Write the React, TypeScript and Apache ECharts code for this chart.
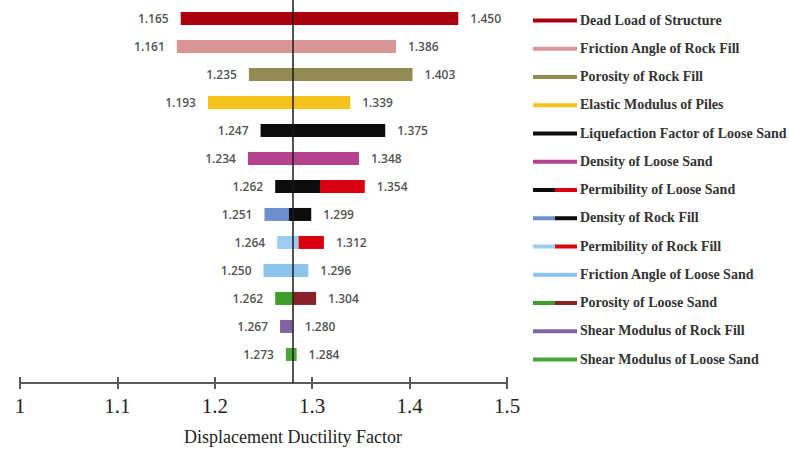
import React, { useEffect, useRef } from "react";
import * as echarts from "echarts";

const categories = [
  "Dead Load of Structure",
  "Friction Angle of Rock Fill",
  "Porosity of Rock Fill",
  "Elastic Modulus of Piles",
  "Liquefaction Factor of Loose Sand",
  "Density of Loose Sand",
  "Permibility of Loose Sand",
  "Density of Rock Fill",
  "Permibility of Rock Fill",
  "Friction Angle of Loose Sand",
  "Porosity of Loose Sand",
  "Shear Modulus of Rock Fill",
  "Shear Modulus of Loose Sand",
];
const lowValues = [1.165, 1.161, 1.235, 1.193, 1.247, 1.234, 1.262, 1.251, 1.264, 1.25, 1.262, 1.267, 1.273];
const highValues = [1.45, 1.386, 1.403, 1.339, 1.375, 1.348, 1.354, 1.299, 1.312, 1.296, 1.304, 1.28, 1.284];
// where a two-colour bar changes colour (single-colour bars: equals high value)
const splitValues = [1.45, 1.386, 1.403, 1.339, 1.375, 1.348, 1.308, 1.276, 1.286, 1.296, 1.28, 1.28, 1.284];
const baseline = 1.276;
const xTicks = { min: 1, max: 1.5, interval: 0.1 };

const leftColors = ["#a8000e", "#d99694", "#948a54", "#f6c21c", "#0d0d0d", "#b4428f", "#0d0d0d", "#6f8fd0", "#9dcbf2", "#8cc4ee", "#3f9e2b", "#8064a2", "#4aa53a"];
const rightColors = ["#a8000e", "#d99694", "#948a54", "#f6c21c", "#0d0d0d", "#b4428f", "#d9000f", "#0d0d0d", "#d9000f", "#8cc4ee", "#8a2128", "#8064a2", "#4aa53a"];

export default function App() {
  const ref = useRef<HTMLDivElement>(null);
  useEffect(() => {
    const chart = echarts.init(ref.current!, undefined, { renderer: "svg" });
    const barData = categories.map((c, i) => [i, lowValues[i], splitValues[i], highValues[i]]);
    const labelFont = { fontFamily: "Open Sans", fontSize: 12, fontWeight: 600 as any, color: "#222" };

    const legendItems: any[] = [];
    categories.forEach((c, i) => {
      const y = 20 + i * 28.25;
      const twoColor = leftColors[i] !== rightColors[i];
      legendItems.push({
        type: "line",
        shape: { x1: 533, y1: y + 0.5, x2: twoColor ? 555 : 577, y2: y + 0.5 },
        style: { stroke: leftColors[i], lineWidth: 4 },
      });
      if (twoColor) {
        legendItems.push({
          type: "line",
          shape: { x1: 555, y1: y + 0.5, x2: 577, y2: y + 0.5 },
          style: { stroke: rightColors[i], lineWidth: 4 },
        });
      }
      legendItems.push({
        type: "text",
        x: 580,
        y: y,
        style: {
          text: c,
          fill: "#333",
          font: "bold 14px 'Liberation Serif', serif",
          verticalAlign: "middle",
          align: "left",
        },
      });
    });

    const gridBox = { left: 20, right: 283, top: 0, bottom: 73 };
    const baseX = {
      type: "value",
      min: xTicks.min,
      max: xTicks.max,
      interval: xTicks.interval,
      position: "bottom",
      splitLine: { show: false },
    };

    chart.setOption({
      animation: false,
      backgroundColor: "#ffffff",
      grid: [gridBox, gridBox],
      xAxis: [
        {
          ...baseX,
          gridIndex: 0,
          axisLine: { show: true, onZero: false, lineStyle: { color: "#5a5a5a", width: 2 } },
          axisTick: { show: true, length: 6, lineStyle: { color: "#5a5a5a", width: 2 } },
          axisLabel: { fontFamily: "Liberation Serif", fontSize: 21, color: "#222", margin: 12 },
          name: "Displacement Ductility Factor",
          nameLocation: "middle",
          nameGap: 45,
          nameTextStyle: { fontFamily: "Liberation Serif", fontSize: 18, color: "#222", padding: [0, 0, 0, 59] },
        },
        {
          ...baseX,
          gridIndex: 1,
          axisLine: { show: false, onZero: false },
          axisTick: { show: true, inside: true, length: 6, lineStyle: { color: "#5a5a5a", width: 2 } },
          axisLabel: { show: false },
        },
      ],
      yAxis: [
        { type: "value", gridIndex: 0, inverse: true, min: -0.66, max: 13.02, show: false },
        { type: "value", gridIndex: 1, inverse: true, min: -0.66, max: 13.02, show: false },
      ],
      graphic: legendItems,
      series: [
        {
          type: "custom",
          xAxisIndex: 0,
          yAxisIndex: 0,
          encode: { x: [1, 2, 3], y: 0 },
          data: barData,
          renderItem: (params: any, api: any) => {
            const i = api.value(0);
            const p0 = api.coord([api.value(1), i]);
            const ps = api.coord([api.value(2), i]);
            const p1 = api.coord([api.value(3), i]);
            const h = 13;
            const idx = params.dataIndex;
            const children: any[] = [
              {
                type: "rect",
                shape: { x: p0[0], y: p0[1] - h / 2, width: ps[0] - p0[0], height: h },
                style: { fill: leftColors[idx] },
              },
            ];
            if (p1[0] - ps[0] > 0.1) {
              children.push({
                type: "rect",
                shape: { x: ps[0], y: ps[1] - h / 2, width: p1[0] - ps[0], height: h },
                style: { fill: rightColors[idx] },
              });
            }
            return { type: "group", children };
          },
        },
        {
          type: "scatter",
          symbolSize: 0,
          itemStyle: { color: "#222" },
          data: lowValues.map((v, i) => [v, i]),
          label: {
            show: true,
            position: "left",
            distance: 12,
            formatter: (p: any) => p.value[0].toFixed(3),
            ...labelFont,
          },
        },
        {
          type: "scatter",
          symbolSize: 0,
          itemStyle: { color: "#222" },
          data: highValues.map((v, i) => [v, i]),
          label: {
            show: true,
            position: "right",
            distance: 12,
            formatter: (p: any) => p.value[0].toFixed(3),
            ...labelFont,
          },
        },
        {
          type: "line",
          data: [],
          markLine: {
            silent: true,
            symbol: "none",
            label: { show: false },
            lineStyle: { color: "#1a1a1a", width: 1.5, type: "solid" },
            data: [{ xAxis: baseline }],
          },
        },
      ],
    });
    return () => chart.dispose();
  }, []);
  return (
    <div
      ref={ref}
      style={{ position: "fixed", left: 0, top: 0, width: 790, height: 456 }}
    />
  );
}
